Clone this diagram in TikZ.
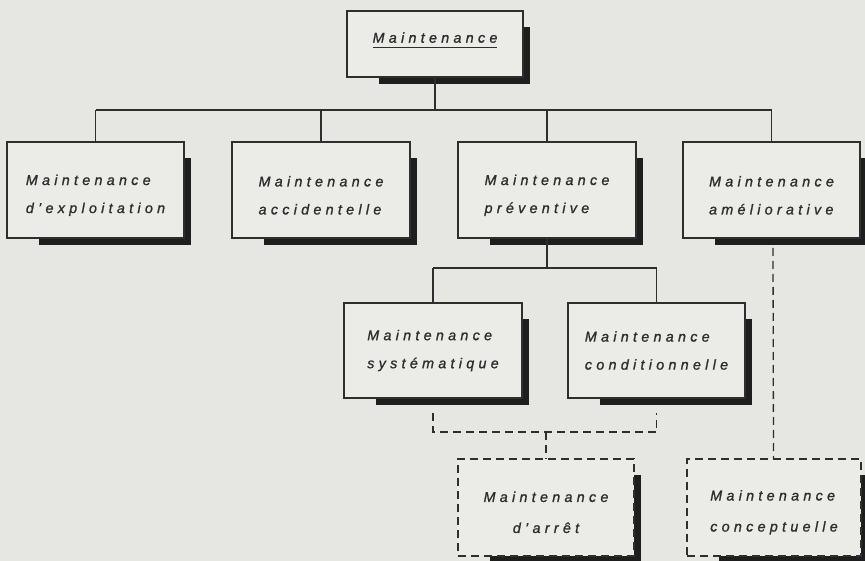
\documentclass[tikz,border=0pt]{standalone}
\usepackage{fontspec}
\newfontfamily\lbl{Liberation Sans}[LetterSpace=30, FakeBold=1.2]
\usetikzlibrary{calc}
\definecolor{paper}{HTML}{E6E6E3}
\definecolor{boxfill}{HTML}{EBEBE8}
\definecolor{ink}{HTML}{2E2E2E}
\definecolor{shadowcol}{HTML}{1E1E1E}
\pgfdeclarelayer{bg}
\pgfdeclarelayer{shadowlayer}
\pgfsetlayers{bg,shadowlayer,main}
\tikzset{
  plainbox/.style={draw=ink, line width=1.4pt, fill=boxfill, outer sep=0pt,
    inner sep=0pt, align=left, text=ink,
    font=\fontsize{14.3pt}{28pt}\selectfont\lbl\itshape},
  solidbox/.style={plainbox},
  dashbox/.style={plainbox, dash pattern=on 8pt off 5pt},
  link/.style={draw=ink, line width=1.2pt},
  dashlink/.style={draw=ink, line width=1.3pt, dash pattern=on 8pt off 5pt},
}
% invisible strut that lowers a two-line label inside its box
\newcommand{\labelstrut}[1]{\rule{0pt}{#1}}
\newcommand{\dropshadow}[1]{%
  \begin{pgfonlayer}{shadowlayer}
    \fill[shadowcol] ($(#1.north west)+(32,16)$) rectangle ($(#1.south east)+(7,7)$);
  \end{pgfonlayer}}
\begin{document}
\begin{tikzpicture}[x=1pt,y=-1pt]
\begin{pgfonlayer}{bg}
  \fill[paper] (0,0) rectangle (865,561);
\end{pgfonlayer}
\useasboundingbox (0,0) rectangle (865,561);

% root
\node[solidbox, minimum width=176pt, minimum height=66pt] (root) at (435,44)
  {\raisebox{4pt}[\height][\depth]{\underline{Maintenance\vphantom{p}}}};

% first level
\node[solidbox, minimum width=177pt, minimum height=96pt] (expl) at (95.5,190)
  {\labelstrut{21pt}Maintenance\\d’exploitation};
\node[solidbox, minimum width=178pt, minimum height=96pt] (acci) at (321,190)
  {\labelstrut{21pt}Maintenance\\accidentelle};
\node[solidbox, minimum width=178pt, minimum height=96pt] (prev) at (547,190)
  {\labelstrut{21pt}Maintenance\\préventive};
\node[solidbox, minimum width=177pt, minimum height=96pt] (amel) at (771.5,190)
  {\labelstrut{21pt}Maintenance\\améliorative};

% second level
\node[solidbox, minimum width=178pt, minimum height=95pt] (syst) at (433,350.5)
  {Maintenance\\systématique};
\node[solidbox, minimum width=177pt, minimum height=95pt] (cond) at (656.5,350.5)
  {Maintenance\\conditionnelle};

% dashed boxes
\node[dashbox, minimum width=176pt, minimum height=97pt, align=center] (arret) at (546,507.5)
  {\labelstrut{20pt}Maintenance\\[3pt]d’arrêt};
\node[dashbox, minimum width=174pt, minimum height=97pt] (conc) at (774,507.5)
  {\labelstrut{20pt}Maintenance\\[3pt]conceptuelle};

\foreach \n in {root,expl,acci,prev,amel,syst,cond,arret,conc} {\dropshadow{\n}}

% tree connectors
\coordinate (bus) at (435,110);
\draw[link] (root.south) -- (bus);
\draw[link] (expl.north |- bus) -- (amel.north |- bus);
\foreach \n in {expl,acci,prev,amel} {\draw[link] (\n.north |- bus) -- (\n.north);}

\coordinate (bus2) at (547,268);
\draw[link] (prev.south) -- (bus2);
\draw[link] (syst.north |- bus2) -- (cond.north |- bus2);
\draw[link] (syst.north |- bus2) -- (syst.north);
\draw[link] (cond.north |- bus2) -- (cond.north);

% dashed connectors
\coordinate (join) at (arret.north |- 0,432);
\draw[dashlink] ($(syst.south)+(0,15)$) |- (join) -| ($(cond.south)+(0,15)$);
\draw[dashlink] (join) -- (arret.north);
\draw[dashlink] ($(amel.south)+(1.5,10)$) -- ($(conc.north)+(-0.5,0)$);
\end{tikzpicture}
\end{document}
